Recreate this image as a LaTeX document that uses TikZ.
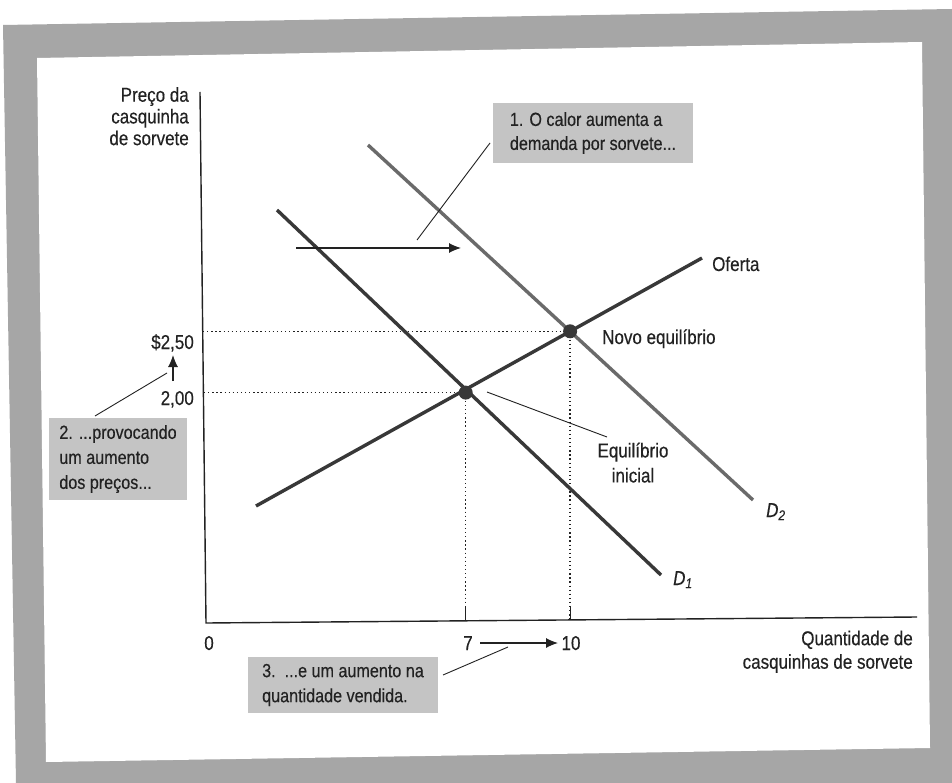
\documentclass[tikz,border=0pt]{standalone}
\usepackage{fontspec}
\setmainfont{Liberation Sans}[FakeStretch=0.85, FakeBold=0.35]
\usetikzlibrary{arrows.meta}
\definecolor{framegray}{HTML}{A6A6A6}
\definecolor{boxgray}{HTML}{C4C4C4}
\definecolor{ink}{HTML}{222222}
\definecolor{curvedark}{HTML}{383838}
\definecolor{curvelight}{HTML}{6A6A6A}
\begin{document}
\begin{tikzpicture}[x=1pt,y=-1pt,
  lbl/.style={font=\fontsize{20}{21.7}\selectfont, text=ink, inner sep=0pt},
  boxtxt/.style={font=\fontsize{19}{24.5}\selectfont, text=ink, fill=boxgray, align=left, inner sep=0pt},
  curve/.style={line width=3.4pt, color=curvedark},
  curveB/.style={line width=3.4pt, color=curvelight},
  axisline/.style={line width=1.4pt, color=ink},
  guide/.style={line width=1.3pt, color=ink, dash pattern=on 1.3pt off 2.8pt},
  leader/.style={line width=0.9pt, color=ink},
  arrowline/.style={line width=1.1pt, color=ink, -{Latex[length=12pt,width=10pt]}},
  eqpt/.style={circle, fill=curvedark, minimum size=14pt, inner sep=0pt}
]
\useasboundingbox (0,0) rectangle (952,783);
% scanned page frame
\fill[white] (0,0) rectangle (952,783);
\fill[framegray] (3,25) -- (952,9) -- (952,783) -- (16,783) -- cycle;
\fill[white] (37,58) -- (922,42) -- (930,748) -- (46,762) -- cycle;

% axes
\coordinate (ytop) at (200,92);
\coordinate (orig) at (206,623);
\coordinate (xend) at (917,617);
\draw[axisline] (ytop) -- (orig) -- (xend);

% curves
\coordinate (s1) at (256,506);
\coordinate (s2) at (702,258);
\coordinate (d1a) at (277,210);
\coordinate (d1b) at (661,575);
\coordinate (d2a) at (368,145);
\coordinate (d2b) at (753,500);
\coordinate (e1) at (465.7,392.6);
\coordinate (e2) at (570.1,331.3);

% guide lines
\coordinate (ya1) at (204,392.6);
\coordinate (ya2) at (203,331.3);
\coordinate (xa1) at (465.7,620);
\coordinate (xa2) at (570.1,619);
\draw[guide] (ya1) -- (e1);
\draw[guide] (ya2) -- (e2);
\draw[guide] (e1) -- (xa1);
\draw[guide] (e2) -- (xa2);
\draw[axisline, line width=1.1pt] (xa1) -- ++(0,-13);
\draw[axisline, line width=1.1pt] (xa2) -- ++(0,-13);

\draw[curveB] (d2a) -- (d2b);
\draw[curve] (d1a) -- (d1b);
\draw[curve] (s1) -- (s2);
\node[eqpt] (p1) at (e1) {};
\node[eqpt] (p2) at (e2) {};

% axis labels
\node[lbl, align=right, anchor=north east] (ylab) at (189,87) {Preço da\\casquinha\\de sorvete};
\node[lbl, align=right, anchor=north east, font=\fontsize{20}{23.5}\selectfont] (xlab) at (913,630.5) {Quantidade de\\casquinhas de sorvete};
\node[lbl, anchor=base east] (p250) at (194,349) {\$2,50};
\node[lbl, anchor=base east] (p200) at (194,405) {2,00};
\node[lbl, anchor=base] (q0) at (209,650) {0};
\node[lbl, anchor=base] (q7) at (468,650) {7};
\node[lbl, anchor=base] (q10) at (571,650) {10};

% curve labels
\node[lbl, anchor=base west] (oferta) at (712,271) {Oferta};
\node[lbl, anchor=base west] (novo) at (602,344) {Novo equilíbrio};
\node[lbl, align=center, anchor=north, font=\fontsize{20}{25}\selectfont] (inicial) at (633,442.5) {Equilíbrio\\inicial};
\node[lbl, anchor=base west] (dd2) at (766,517) {\textit{D}\textsubscript{\textit{2}}};
\node[lbl, anchor=base west] (dd1) at (673,585) {\textit{D}\textsubscript{\textit{1}}};

% annotation boxes
\node[boxtxt, minimum width=200pt, minimum height=60pt, font=\fontsize{19}{24}\selectfont] (b1) at (593,133) {1. O calor aumenta a\\demanda por sorvete...};
\node[boxtxt, minimum width=138pt, minimum height=82pt, font=\fontsize{19}{25}\selectfont] (b2) at (118,459) {2. ...provocando\\um aumento\\dos preços...};
\node[boxtxt, minimum width=190pt, minimum height=56pt, font=\fontsize{19}{25}\selectfont] (b3) at (343,685) {3.\ \ ...e um aumento na\\quantidade vendida.};

% leaders and arrows
\coordinate (l1a) at (490,143);
\coordinate (l1b) at (417,240);
\draw[leader] (l1a) -- (l1b);
\coordinate (a1a) at (296,248);
\coordinate (a1b) at (461,248);
\draw[arrowline] (a1a) -- (a1b);

\coordinate (l2a) at (95,416);
\coordinate (l2b) at (167,373);
\draw[leader] (l2a) -- (l2b);
\coordinate (a2a) at (173,381);
\coordinate (a2b) at (173,355);
\draw[arrowline] (a2a) -- (a2b);

\coordinate (l3a) at (443,675);
\coordinate (l3b) at (508,647);
\draw[leader] (l3a) -- (l3b);
\coordinate (a3a) at (480,643);
\coordinate (a3b) at (558,643);
\draw[arrowline] (a3a) -- (a3b);

\coordinate (lea) at (487,392);
\coordinate (leb) at (607,437);
\draw[leader] (lea) -- (leb);
\end{tikzpicture}
\end{document}
